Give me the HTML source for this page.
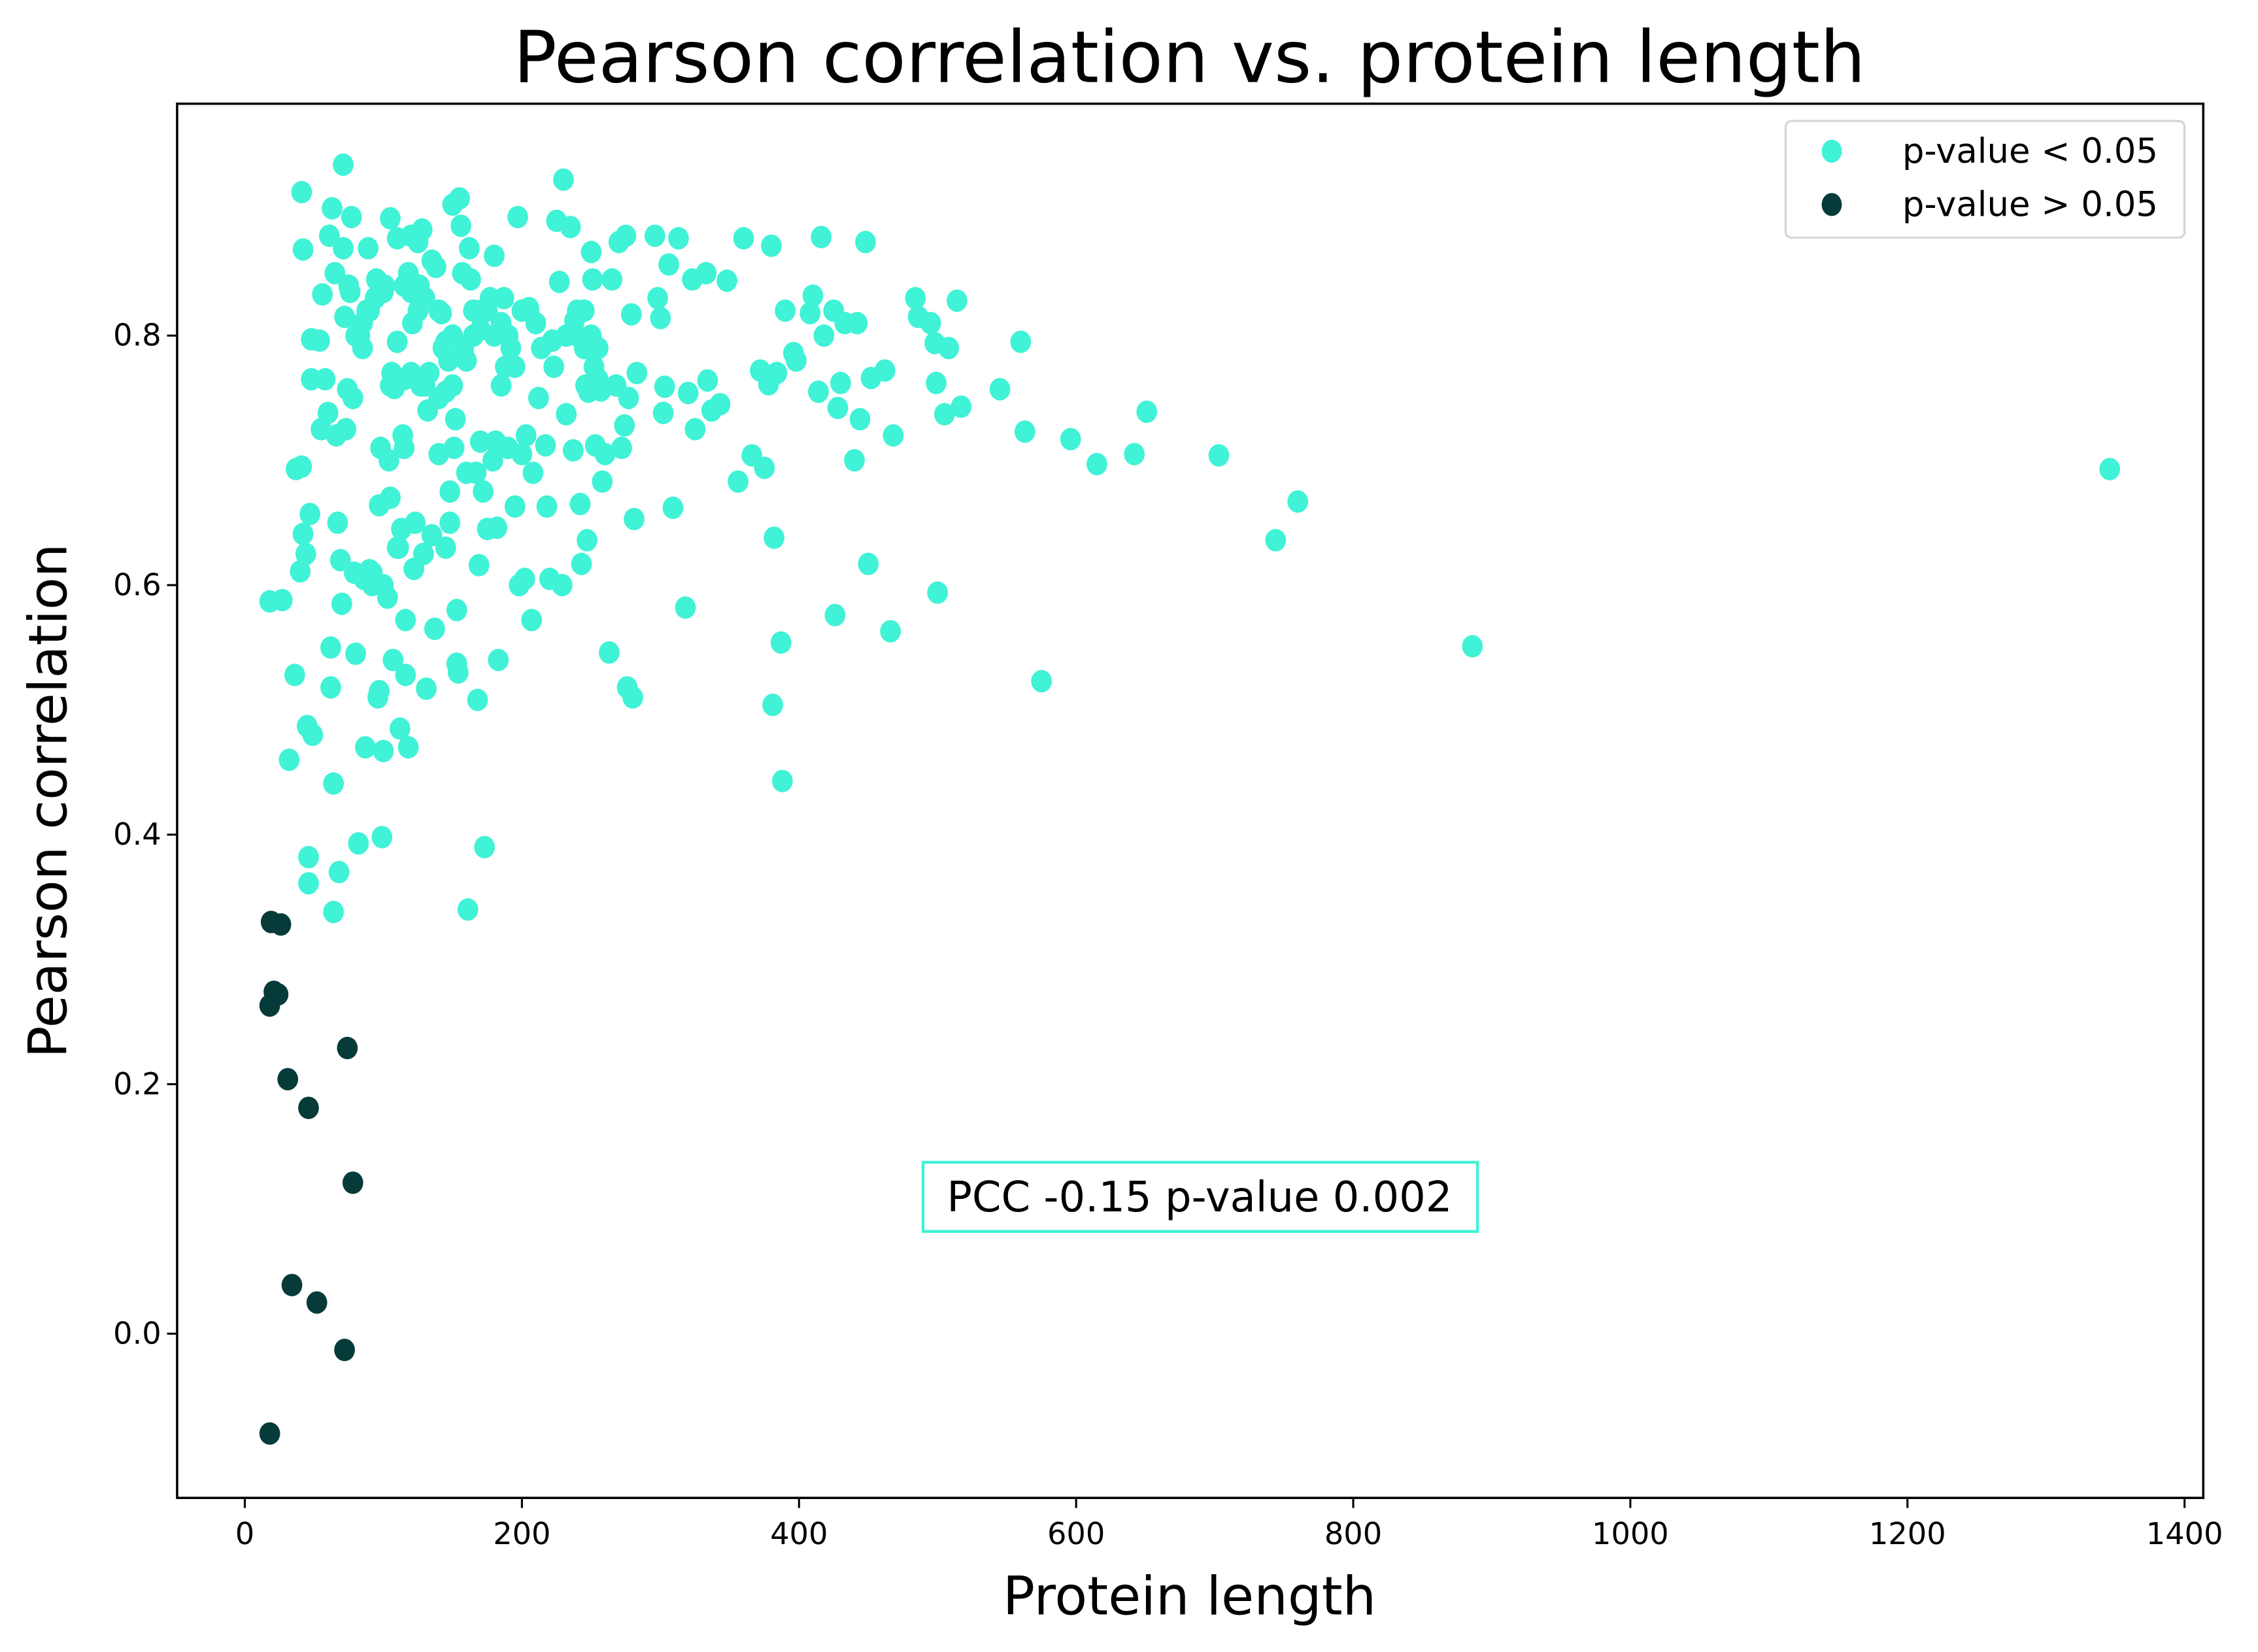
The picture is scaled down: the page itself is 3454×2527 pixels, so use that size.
<!DOCTYPE html>
<html><head><meta charset="utf-8"><style>
html,body{margin:0;padding:0;background:#fff;}
svg{display:block;font-family:"DejaVu Sans","Liberation Sans",sans-serif;}
</style></head><body>
<svg id="chart" width="3454" height="2527" viewBox="0 0 1568 1147" preserveAspectRatio="none" xmlns="http://www.w3.org/2000/svg">
<rect width="1568" height="1147" fill="#fff"/>
<text x="826" y="57" font-size="50" text-anchor="middle">Pearson correlation vs. protein length</text>
<g id="marks"></g>
<rect x="123" y="72" width="1407" height="968" fill="none" stroke="#000" stroke-width="1.6"/>
<g id="axes"></g>
<text x="826" y="1121" font-size="37" text-anchor="middle">Protein length</text>
<text transform="translate(46,556) rotate(-90)" font-size="37" text-anchor="middle">Pearson correlation</text>
<g>
<rect x="1240" y="84" width="277" height="81" rx="4" fill="#fff" stroke="#d6d6d6" stroke-width="1.5"/>
<ellipse cx="1272" cy="105" rx="7" ry="8" fill="#40F2D6"/>
<text x="1321" y="113" font-size="24">p-value &lt; 0.05</text>
<ellipse cx="1272" cy="142" rx="7" ry="8" fill="#073B3A"/>
<text x="1321" y="150" font-size="24">p-value &gt; 0.05</text>
</g>
<g>
<rect x="641" y="807" width="385" height="48" fill="#fff" stroke="#40F2D6" stroke-width="2"/>
<text x="833" y="841" font-size="29" text-anchor="middle">PCC -0.15 p-value 0.002</text>
</g>
</svg>
<script>
const xTicks=[0,200,400,600,800,1000,1200,1400];
const yTicks=[0.0,0.2,0.4,0.6,0.8];
const yTickLabels=["0.0","0.2","0.4","0.6","0.8"];
const darkLen=[19,26,21,24,18,31,46,74,78,34,52,72,18];
const darkPcc=[0.33,0.328,0.274,0.272,0.263,0.204,0.181,0.229,0.121,0.039,0.025,-0.013,-0.08];
const sigPairs=[[18,0.587],[27,0.588],[32,0.46],[36,0.528],[37,0.693],[40,0.611],[41,0.695],[42,0.641],[44,0.625],[46,0.361],[46,0.382],[45,0.487],[47,0.657],[49,0.48],[42,0.869],[41,0.915],[48,0.797],[48,0.765],[54,0.796],[55,0.725],[56,0.833],[58,0.765],[60,0.738],[61,0.88],[62,0.518],[62,0.55],[63,0.902],[64,0.338],[64,0.441],[65,0.85],[66,0.72],[67,0.65],[68,0.37],[69,0.62],[70,0.585],[71,0.937],[71,0.87],[72,0.815],[73,0.725],[74,0.757],[76,0.835],[77,0.895],[78,0.75],[79,0.61],[80,0.545],[82,0.393],[83,0.8],[85,0.79],[86,0.605],[87,0.47],[88,0.82],[89,0.87],[90,0.612],[92,0.6],[94,0.83],[96,0.51],[97,0.515],[97,0.664],[98,0.71],[99,0.398],[100,0.467],[101,0.84],[103,0.59],[104,0.7],[105,0.894],[105,0.67],[106,0.77],[107,0.54],[108,0.758],[110,0.878],[110,0.795],[111,0.63],[112,0.485],[113,0.645],[114,0.72],[115,0.71],[116,0.528],[116,0.572],[118,0.47],[118,0.85],[120,0.77],[121,0.81],[122,0.613],[123,0.65],[125,0.875],[126,0.84],[127,0.76],[128,0.885],[129,0.625],[131,0.517],[132,0.74],[133,0.77],[135,0.64],[137,0.565],[138,0.855],[140,0.705],[142,0.818],[143,0.79],[145,0.63],[147,0.78],[148,0.675],[148,0.65],[150,0.905],[151,0.71],[152,0.733],[153,0.58],[153,0.537],[154,0.53],[155,0.91],[156,0.888],[157,0.85],[160,0.69],[161,0.34],[162,0.87],[163,0.845],[165,0.8],[167,0.69],[168,0.508],[169,0.616],[170,0.715],[171,0.82],[172,0.675],[173,0.39],[175,0.645],[177,0.83],[179,0.7],[180,0.864],[181,0.715],[182,0.646],[183,0.54],[185,0.76],[187,0.83],[188,0.775],[190,0.71],[192,0.79],[195,0.663],[197,0.895],[198,0.6],[200,0.705],[202,0.605],[203,0.72],[205,0.822],[207,0.572],[208,0.69],[210,0.81],[212,0.75],[214,0.79],[217,0.712],[218,0.663],[220,0.605],[222,0.796],[223,0.775],[225,0.892],[227,0.843],[229,0.6],[230,0.925],[232,0.737],[235,0.887],[237,0.708],[240,0.8],[242,0.665],[243,0.617],[245,0.82],[246,0.76],[247,0.636],[250,0.867],[251,0.845],[252,0.775],[253,0.712],[255,0.79],[257,0.756],[258,0.683],[260,0.705],[263,0.546],[265,0.845],[268,0.76],[270,0.875],[272,0.71],[274,0.728],[275,0.88],[276,0.518],[277,0.75],[279,0.817],[280,0.51],[281,0.653],[283,0.77],[296,0.88],[298,0.83],[300,0.814],[302,0.738],[303,0.759],[306,0.857],[309,0.662],[313,0.878],[318,0.582],[320,0.754],[323,0.845],[325,0.725],[333,0.85],[334,0.764],[337,0.74],[343,0.745],[348,0.844],[356,0.683],[360,0.878],[366,0.704],[372,0.772],[375,0.694],[378,0.761],[380,0.872],[381,0.504],[382,0.638],[384,0.77],[387,0.554],[388,0.443],[390,0.82],[396,0.786],[398,0.78],[408,0.818],[410,0.832],[414,0.755],[416,0.879],[418,0.8],[425,0.82],[426,0.576],[428,0.742],[430,0.762],[433,0.81],[440,0.7],[442,0.81],[444,0.733],[448,0.875],[450,0.617],[452,0.766],[462,0.772],[466,0.563],[468,0.72],[484,0.83],[486,0.815],[495,0.81],[498,0.794],[499,0.762],[500,0.594],[505,0.737],[508,0.79],[514,0.828],[517,0.743],[545,0.757],[560,0.795],[563,0.723],[575,0.523],[596,0.717],[615,0.697],[642,0.705],[651,0.739],[703,0.704],[744,0.636],[760,0.667],[886,0.551],[1346,0.693],[130,0.83],[135,0.86],[145,0.795],[150,0.8],[158,0.79],[165,0.82],[170,0.805],[175,0.82],[180,0.8],[185,0.81],[190,0.8],[195,0.775],[200,0.82],[240,0.82],[245,0.79],[250,0.8],[255,0.765],[248,0.755],[238,0.812],[232,0.8],[115,0.84],[120,0.835],[125,0.82],[100,0.835],[95,0.845],[90,0.82],[85,0.81],[75,0.84],[80,0.8],[140,0.75],[145,0.755],[150,0.76],[160,0.78],[130,0.76],[115,0.765],[105,0.76],[110,0.63],[92,0.61],[100,0.6],[205,0.82],[120,0.88],[140,0.82]];
const sigLen=sigPairs.map(p=>p[0]);
const sigPcc=sigPairs.map(p=>p[1]);

const NS="http://www.w3.org/2000/svg";
function sx(v){return 170+v*(1347/1400);}
function sy(v){return 926-v*866.25;}
const marks=document.getElementById('marks');
const axes=document.getElementById('axes');
function dot(x,y,c,name){
  const e=document.createElementNS(NS,'ellipse');
  e.setAttribute('cx',sx(x));e.setAttribute('cy',sy(y));
  e.setAttribute('rx',7.2);e.setAttribute('ry',7.8);e.setAttribute('fill',c);
  
  
  marks.appendChild(e);
}
for(let i=0;i<sigLen.length;i++) dot(sigLen[i],sigPcc[i],'#40F2D6','point-significant');
for(let i=0;i<darkLen.length;i++) dot(darkLen[i],darkPcc[i],'#073B3A','point-nonsignificant');
function line(x1,y1,x2,y2){
  const l=document.createElementNS(NS,'line');
  l.setAttribute('x1',x1);l.setAttribute('y1',y1);l.setAttribute('x2',x2);l.setAttribute('y2',y2);
  l.setAttribute('stroke','#000');l.setAttribute('stroke-width','1.4');
  
  
  axes.appendChild(l);
}
function txt(x,y,s,anchor,name){
  const t=document.createElementNS(NS,'text');
  t.setAttribute('x',x);t.setAttribute('y',y);t.setAttribute('font-size','21');
  t.setAttribute('text-anchor',anchor);t.textContent=s;
  
  
  axes.appendChild(t);
}
xTicks.forEach(v=>{const x=sx(v);line(x,1040,x,1047);txt(x,1072,String(v),'middle','x-tick-label');});
yTicks.forEach((v,i)=>{const y=sy(v);line(116,y,123,y);txt(112,y+7,yTickLabels[i],'end','y-tick-label');});
</script>
</body></html>
